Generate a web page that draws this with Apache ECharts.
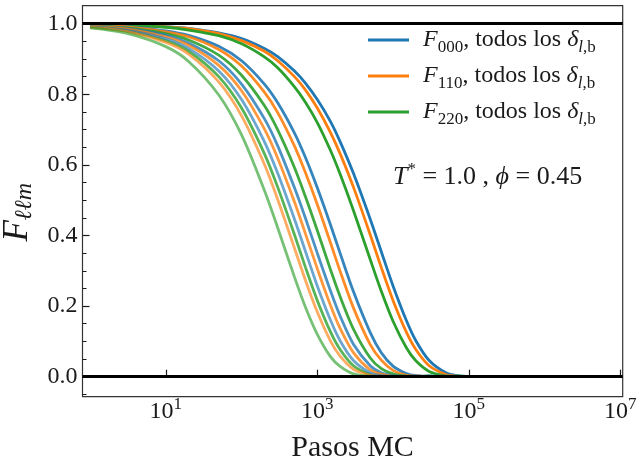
<!DOCTYPE html>
<html>
<head>
<meta charset="utf-8">
<script src="https://cdn.jsdelivr.net/npm/echarts@6.0.0/dist/echarts.min.js"></script>
<style>
  html, body { margin: 0; padding: 0; background: #fff; }
  #chart { width: 636px; height: 464px; }
</style>
</head>
<body>
<div id="chart"></div>
<script>
// pasos MC (eje x, log)
var pasos = [1, 3, 10, 20, 50, 100, 200, 300, 500, 700, 1000, 1500, 2000, 3000, 5000, 7000, 10000, 15000, 20000, 30000, 50000, 70000, 100000];

// F000, un array por delta (d1 = el mas lento)
var f000_d1 = [0.998, 0.997, 0.992, 0.987, 0.974, 0.958, 0.930, 0.907, 0.866, 0.831, 0.785, 0.722, 0.666, 0.576, 0.446, 0.354, 0.257, 0.159, 0.102, 0.046, 0.011, 0.003, 0.001];
var f000_d2 = [0.996, 0.992, 0.980, 0.967, 0.936, 0.895, 0.829, 0.776, 0.690, 0.620, 0.535, 0.429, 0.350, 0.241, 0.125, 0.068, 0.030, 0.009, 0.003, 0.001, 0.002, 0.000, 0.001];
var f000_d3 = [0.993, 0.987, 0.968, 0.945, 0.895, 0.829, 0.731, 0.654, 0.535, 0.448, 0.350, 0.242, 0.172, 0.092, 0.031, 0.011, 0.003, 0.001, 0.000, 0.002, 0.000, 0.001, 0.000];
var f000_d4 = [0.992, 0.982, 0.958, 0.930, 0.866, 0.785, 0.666, 0.576, 0.446, 0.354, 0.257, 0.159, 0.102, 0.046, 0.011, 0.003, 0.001, 0.000, 0.002, 0.000, 0.001, 0.000, 0.001];

// F110
var f110_d1 = [0.998, 0.996, 0.991, 0.986, 0.972, 0.952, 0.922, 0.895, 0.850, 0.812, 0.761, 0.691, 0.632, 0.537, 0.402, 0.309, 0.216, 0.126, 0.077, 0.031, 0.006, 0.001, 0.000];
var f110_d2 = [0.996, 0.991, 0.977, 0.963, 0.927, 0.880, 0.806, 0.748, 0.653, 0.577, 0.488, 0.378, 0.299, 0.195, 0.091, 0.047, 0.018, 0.004, 0.001, 0.000, 0.002, 0.000, 0.001];
var f110_d3 = [0.993, 0.985, 0.963, 0.939, 0.882, 0.810, 0.702, 0.619, 0.495, 0.404, 0.306, 0.201, 0.137, 0.068, 0.019, 0.007, 0.001, 0.000, 0.002, 0.000, 0.001, 0.000, 0.000];
var f110_d4 = [0.990, 0.978, 0.947, 0.914, 0.835, 0.739, 0.602, 0.502, 0.364, 0.272, 0.183, 0.100, 0.058, 0.021, 0.004, 0.001, 0.000, 0.002, 0.000, 0.001, 0.000, 0.001, 0.000];

// F220
var f220_d1 = [0.998, 0.996, 0.990, 0.982, 0.966, 0.943, 0.906, 0.875, 0.821, 0.777, 0.720, 0.640, 0.574, 0.471, 0.332, 0.242, 0.157, 0.082, 0.045, 0.015, 0.002, 0.000, 0.001];
var f220_d2 = [0.995, 0.988, 0.972, 0.954, 0.911, 0.854, 0.768, 0.699, 0.592, 0.509, 0.414, 0.302, 0.227, 0.135, 0.053, 0.023, 0.008, 0.001, 0.000, 0.002, 0.000, 0.001, 0.000];
var f220_d3 = [0.991, 0.980, 0.952, 0.922, 0.850, 0.761, 0.632, 0.537, 0.402, 0.309, 0.216, 0.126, 0.077, 0.031, 0.006, 0.001, 0.000, 0.002, 0.000, 0.001, 0.000, 0.002, 0.000];
var f220_d4 = [0.988, 0.973, 0.935, 0.893, 0.798, 0.685, 0.528, 0.422, 0.282, 0.196, 0.120, 0.056, 0.029, 0.008, 0.001, 0.000, 0.002, 0.000, 0.001, 0.000, 0.002, 0.000, 0.001];

var nombres = ['F000', 'F110', 'F220'];
var curvas = [
  [f000_d1, f000_d2, f000_d3, f000_d4],
  [f110_d1, f110_d2, f110_d3, f110_d4],
  [f220_d1, f220_d2, f220_d3, f220_d4]
];

var ticksX = [10, 1000, 100000, 10000000];
var ticksY = [0, 0.2, 0.4, 0.6, 0.8, 1.0];
var ticksYmenor = [-0.05, 0.05, 0.1, 0.15, 0.25, 0.3, 0.35, 0.45, 0.5, 0.55, 0.65, 0.7, 0.75, 0.85, 0.9, 0.95];

var colores = ['#1f77b4', '#ff7f0e', '#2ca02c'];
var alfas = [1, 0.9, 0.8, 0.65];
var fuente = 'Liberation Serif';
var negro = '#1a1a1a';

var chart = echarts.init(document.getElementById('chart'), null, { renderer: 'canvas' });

var series = [];
for (var d = 0; d < 4; d++) {
  for (var f = 0; f < 3; f++) {
    var vals = curvas[f][d];
    series.push({
      type: 'line',
      name: d == 0 ? nombres[f] : nombres[f] + '_d' + (d + 1),
      data: pasos.map(function (t, i) { return [t, vals[i]]; }),
      showSymbol: false,
      smooth: 0.3,
      silent: true,
      lineStyle: { color: colores[f], width: 2.8, opacity: alfas[d] },
      itemStyle: { color: colores[f] }
    });
  }
}
// lineas horizontales en 0 y 1
series[series.length - 1].markLine = {
  silent: true,
  symbol: ['none', 'none'],
  label: { show: false },
  lineStyle: { color: '#000', width: 3, type: 'solid' },
  data: [{ yAxis: 0 }, { yAxis: 1 }]
};

var option = {
  animation: false,
  grid: {
    left: 82.5, right: 13.3, top: 5.7, bottom: 67.3,
    outerBoundsMode: 'none', containLabel: false,
    show: true, borderColor: '#333', borderWidth: 1.2
  },
  xAxis: {
    type: 'log', logBase: 10, min: 0.794, max: 1.077e7,
    axisLine: { show: false },
    splitLine: { show: false },
    axisTick: { inside: true, length: 7, customValues: ticksX, lineStyle: { color: negro, width: 1.2 } },
    axisLabel: {
      customValues: ticksX,
      margin: 3,
      formatter: function (v) {
        return '{b|10}{s|' + Math.round(Math.log10(v)) + '}';
      },
      rich: {
        b: { fontFamily: fuente, fontSize: 24, color: negro, lineHeight: 24 },
        s: { fontFamily: fuente, fontSize: 17, color: negro, lineHeight: 17, padding: [0, 0, 15, 0] }
      }
    },
    name: 'Pasos MC', nameLocation: 'middle', nameGap: 36,
    nameTextStyle: { fontFamily: fuente, fontSize: 30, color: negro }
  },
  yAxis: [{
    type: 'value', min: -0.0567, max: 1.051,
    axisLine: { show: false },
    splitLine: { show: false },
    axisTick: { inside: true, length: 7, customValues: ticksY, lineStyle: { color: negro, width: 1.2 } },
    axisLabel: {
      customValues: ticksY, margin: 5,
      formatter: function (v) { return '{v|' + v.toFixed(1) + '}'; },
      rich: {
        v: { fontFamily: fuente, fontSize: 24, color: negro }
      }
    },
    name: '{F|F}{s|ℓℓm}', nameLocation: 'middle', nameGap: 47, nameRotate: 90,
    nameTextStyle: {
      padding: [0, 22, 0, 0],
      rich: {
        F: { fontFamily: fuente, fontSize: 35, fontStyle: 'italic', color: negro, lineHeight: 35 },
        s: { fontFamily: fuente, fontSize: 24, fontStyle: 'italic', color: negro, lineHeight: 24, padding: [14, 0, 0, 0] }
      }
    }
  }, {
    type: 'value', min: -0.0567, max: 1.051, position: 'left',
    axisLine: { show: false },
    splitLine: { show: false },
    axisLabel: { show: false },
    axisTick: { inside: true, length: 4, customValues: ticksYmenor, lineStyle: { color: negro, width: 1 } }
  }],
  legend: {
    data: nombres,
    orient: 'vertical',
    left: 363, top: 19,
    itemWidth: 41, itemHeight: 3, itemGap: 4,
    icon: 'rect',
    selectedMode: false,
    formatter: function (n) {
      return '{F|F}{sub|' + n.slice(1) + '}{t|, todos los }{d|δ}{subi|l}{sub|,b}';
    },
    textStyle: {
      fontFamily: fuente, fontSize: 24, color: negro,
      rich: {
        F: { fontFamily: fuente, fontSize: 24, fontStyle: 'italic', color: negro, lineHeight: 36, padding: [0, 0, 0, 9] },
        t: { fontFamily: fuente, fontSize: 24, color: negro, lineHeight: 36 },
        d: { fontFamily: fuente, fontSize: 24, fontStyle: 'italic', color: negro, lineHeight: 36 },
        sub: { fontFamily: fuente, fontSize: 17, color: negro, lineHeight: 17, padding: [15, 0, 0, 0] },
        subi: { fontFamily: fuente, fontSize: 17, fontStyle: 'italic', color: negro, lineHeight: 17, padding: [15, 0, 0, 0] }
      }
    }
  },
  graphic: [{
    type: 'text', x: 393, y: 177,
    style: {
      text: '{T|T}{sup|*}{n| = 1.0 , }{p|ϕ}{n| = 0.45}',
      verticalAlign: 'middle',
      rich: {
        T: { fontFamily: fuente, fontSize: 26, fontStyle: 'italic', fill: negro, lineHeight: 26 },
        sup: { fontFamily: fuente, fontSize: 17, fill: negro, lineHeight: 17, padding: [0, 0, 15, 0] },
        n: { fontFamily: fuente, fontSize: 26, fill: negro, lineHeight: 26 },
        p: { fontFamily: fuente, fontSize: 26, fontStyle: 'italic', fill: negro, lineHeight: 26 }
      }
    }
  }],
  series: series
};

chart.setOption(option);
</script>
</body>
</html>
